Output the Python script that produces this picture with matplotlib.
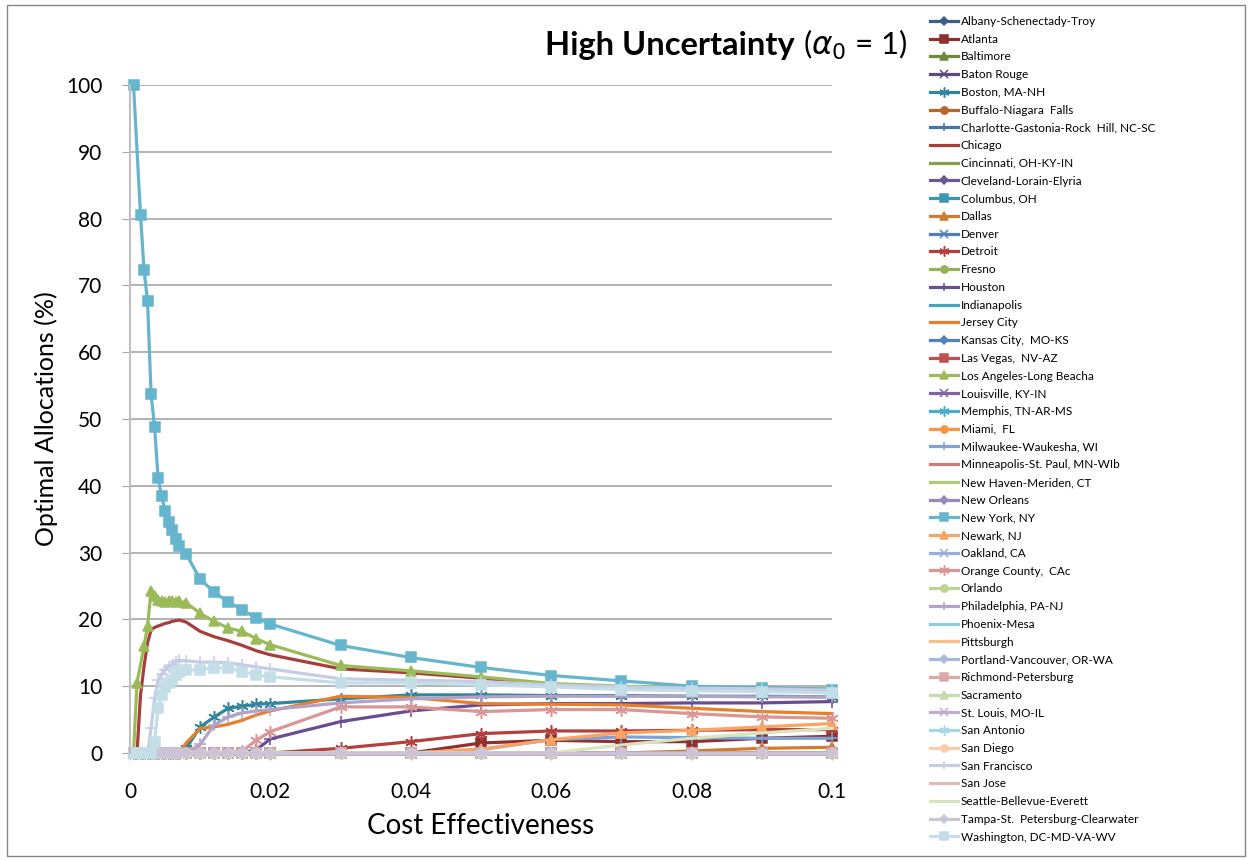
import numpy as np
import matplotlib.pyplot as plt
from matplotlib.patches import Rectangle
from matplotlib.ticker import FuncFormatter

plt.rcParams['font.family'] = ['Lato', 'DejaVu Sans']

# cost effectiveness values (x axis)
x = [0.0005, 0.001, 0.0015, 0.002, 0.0025, 0.003, 0.0035, 0.004, 0.0045, 0.005,
     0.0055, 0.006, 0.0065, 0.007, 0.008, 0.01, 0.012, 0.014, 0.016, 0.018,
     0.02, 0.03, 0.04, 0.05, 0.06, 0.07, 0.08, 0.09, 0.1]

N = None
new_york = [100, N, 80.5, 72.3, 67.6, 53.8, 48.8, 41.2, 38.4, 36.3,
            34.6, 33.4, 32.1, 31.0, 29.8, 26.0, 24.1, 22.6, 21.4, 20.2,
            19.3, 16.1, 14.3, 12.8, 11.6, 10.8, 10.0, 9.8, 9.5]
los_angeles = [0, 10.5, N, 16.0, 19.0, 24.3, 23.5, 22.9, 22.7, 22.6,
               22.7, 22.7, 22.6, 22.7, 22.5, 20.9, 19.7, 18.7, 18.2, 17.1,
               16.2, 13.1, 12.3, 11.4, 10.4, 10.0, 9.8, 9.7, 9.6]
chicago = [0, 0, 8.7, 13.0, 16.5, 18.4, 18.8, 19.0, 19.2, 19.4,
           19.5, 19.7, 19.8, 19.9, 19.6, 18.2, 17.4, 16.8, 16.1, 15.3,
           14.7, 12.6, 12.0, 11.2, 10.3, 9.9, 9.7, 9.6, 9.5]
san_francisco = [0, 0, 0, 0, 0, 3.7, 8.2, 10.9, 11.8, 12.4,
                 12.9, 13.2, 13.6, 13.9, 13.8, 13.6, 13.6, 13.5, 13.2, 12.9,
                 12.6, 11.1, 10.9, 10.7, 10.2, 9.9, 9.7, 9.6, 9.4]
washington = [0, 0, 0, 0, 0, 0, 1.7, 6.7, 8.7, 9.9,
              10.5, 11.0, 11.7, 12.2, 12.4, 12.5, 12.7, 12.7, 12.2, 11.7,
              11.4, 10.5, 10.5, 10.2, 9.9, 9.5, 9.3, 9.2, 9.0]
boston = [0, 0, 0, 0, 0, 0, 0, 0, 0, 0,
          0, 0, 0, 0, 0.7, 3.9, 5.4, 6.7, 7.0, 7.3,
          7.4, 8.1, 8.7, 8.7, 8.6, 8.6, 8.5, 8.5, 8.4]
jersey_city = [0, 0, 0, 0, 0, 0, 0, 0, 0, 0,
               0, 0, 0, 0, 1.5, 3.7, 3.9, 4.3, 4.9, 5.7,
               6.3, 8.5, 8.3, 7.4, 7.3, 7.2, 6.7, 6.2, 5.9]
philadelphia = [0, 0, 0, 0, 0, 0, 0, 0, 0, 0,
                0, 0, 0, 0, 0, 1.3, 4.2, 5.4, 6.0, 6.3,
                6.5, 7.5, 8.1, 8.4, 8.5, 8.5, 8.5, 8.4, 8.4]
orange_county = [0, 0, 0, 0, 0, 0, 0, 0, 0, 0,
                 0, 0, 0, 0, 0, 0, 0, 0, 0.3, 1.9,
                 3.2, 6.9, 6.9, 6.2, 6.5, 6.5, 5.9, 5.4, 5.2]
houston = [0, 0, 0, 0, 0, 0, 0, 0, 0, 0,
           0, 0, 0, 0, 0, 0, 0, 0, 0, 0.5,
           2.1, 4.7, 6.3, 7.2, 7.4, 7.4, 7.5, 7.5, 7.7]
detroit = [0, 0, 0, 0, 0, 0, 0, 0, 0, 0,
           0, 0, 0, 0, 0, 0, 0, 0, 0, 0,
           0, 0.7, 1.7, 2.9, 3.3, 3.3, 3.4, 3.5, 3.5]
atlanta = [0, 0, 0, 0, 0, 0, 0, 0, 0, 0,
           0, 0, 0, 0, 0, 0, 0, 0, 0, 0,
           0, 0, 0, 1.5, 1.9, 1.7, 1.7, 2.2, 2.5]
milwaukee = [0, 0, 0, 0, 0, 0, 0, 0, 0, 0,
             0, 0, 0, 0, 0, 0, 0, 0, 0, 0,
             0, 0, 0, 0.5, 2.0, 2.4, 2.3, 2.2, 2.2]
newark = [0, 0, 0, 0, 0, 0, 0, 0, 0, 0,
          0, 0, 0, 0, 0, 0, 0, 0, 0, 0,
          0, 0, 0, 0.6, 2.0, 3.0, 3.4, 3.9, 4.4]
seattle = [0, 0, 0, 0, 0, 0, 0, 0, 0, 0,
           0, 0, 0, 0, 0, 0, 0, 0, 0, 0,
           0, 0, 0, 0, 0, 1.2, 2.2, 3.0, 3.7]
dallas = [0, 0, 0, 0, 0, 0, 0, 0, 0, 0,
          0, 0, 0, 0, 0, 0, 0, 0, 0, 0,
          0, 0, 0, 0, 0, 0, 0.3, 0.7, 0.85]
zero = [0] * len(x)

cities = ["Albany-Schenectady-Troy", "Atlanta", "Baltimore", "Baton Rouge",
          "Boston, MA-NH", "Buffalo-Niagara  Falls", "Charlotte-Gastonia-Rock  Hill, NC-SC",
          "Chicago", "Cincinnati, OH-KY-IN", "Cleveland-Lorain-Elyria", "Columbus, OH",
          "Dallas", "Denver", "Detroit", "Fresno", "Houston", "Indianapolis",
          "Jersey City", "Kansas City,  MO-KS", "Las Vegas,  NV-AZ",
          "Los Angeles-Long Beacha", "Louisville, KY-IN", "Memphis, TN-AR-MS",
          "Miami,  FL", "Milwaukee-Waukesha, WI", "Minneapolis-St. Paul, MN-WIb",
          "New Haven-Meriden, CT", "New Orleans", "New York, NY", "Newark, NJ",
          "Oakland, CA", "Orange County,  CAc", "Orlando", "Philadelphia, PA-NJ",
          "Phoenix-Mesa", "Pittsburgh", "Portland-Vancouver, OR-WA",
          "Richmond-Petersburg", "Sacramento", "St. Louis, MO-IL", "San Antonio",
          "San Diego", "San Francisco", "San Jose", "Seattle-Bellevue-Everett",
          "Tampa-St.  Petersburg-Clearwater", "Washington, DC-MD-VA-WV"]

colors = ["#3D5F8F", "#8E302D", "#6F8A3A", "#5E4A7E", "#31859C", "#B8652A",
          "#4774AC", "#A83E3B", "#85A24B", "#6E5692", "#3C97AE", "#D47A2E",
          "#4F7EB8", "#B3403D", "#93B356", "#6A4C94", "#44A4BE", "#E8802A",
          "#4F81BD", "#C0504D", "#9BBB59", "#8064A2", "#4BACC6", "#F79646",
          "#7EA1D6", "#D07C79", "#AFCB7A", "#9C87BA", "#64B5CD", "#F9A462",
          "#97AFD8", "#DA9694", "#BCD393", "#B3A2C7", "#93CDDD", "#FAC08F",
          "#A7B8DC", "#DBA9A8", "#C7DAAB", "#BAAFCF", "#A9D6E3", "#FBCCAA",
          "#C5CCE5", "#E2BCBB", "#D7E4BD", "#CCC3DB", "#C3DEE7"]

marker_cycle = ['D', 's', '^', 'x', (6, 2, 0), 'o', '+', None, None]
size_of = {'D': 5.5, 's': 6.5, '^': 6.5, 'x': 7, 'o': 6.5, '+': 8}

values = {c: zero for c in cities}
values["New York, NY"] = new_york
values["Los Angeles-Long Beacha"] = los_angeles
values["Chicago"] = chicago
values["San Francisco"] = san_francisco
values["Washington, DC-MD-VA-WV"] = washington
values["Boston, MA-NH"] = boston
values["Jersey City"] = jersey_city
values["Philadelphia, PA-NJ"] = philadelphia
values["Orange County,  CAc"] = orange_county
values["Houston"] = houston
values["Detroit"] = detroit
values["Atlanta"] = atlanta
values["Milwaukee-Waukesha, WI"] = milwaukee
values["Newark, NJ"] = newark
values["Seattle-Bellevue-Everett"] = seattle
values["Dallas"] = dallas

fig = plt.figure(figsize=(12.49, 8.6), dpi=100)
ax = fig.add_axes([130 / 1249, 1 - 753 / 860, 702 / 1249, 668 / 860])

xs = np.array(x)
for i, c in enumerate(cities):
    y = np.array([np.nan if v is None else v for v in values[c]], dtype=float)
    ok = ~np.isnan(y)
    m = marker_cycle[i % 9]
    ms = size_of.get(m, 9) if m is not None else 0
    ax.plot(xs[ok], y[ok], color=colors[i], lw=2.3, marker=m, ms=ms,
            mfc=colors[i], mec=colors[i], mew=1.1, label=c, clip_on=False,
            solid_joinstyle='round')

ax.set_xlim(0, 0.1)
ax.set_ylim(0, 100)
ax.set_yticks(range(0, 101, 10))
ax.set_xticks([0, 0.02, 0.04, 0.06, 0.08, 0.1])
ax.xaxis.set_major_formatter(FuncFormatter(lambda v, p: '0' if v == 0 else ('%g' % round(v, 3))))
ax.grid(axis='y', color='#A6A6A6', lw=1.2)
ax.set_axisbelow(True)
for s in ['top', 'right', 'bottom']:
    ax.spines[s].set_visible(False)
ax.spines['left'].set_color('#BFBFBF')
ax.spines['left'].set_linewidth(1.5)
ax.tick_params(axis='y', length=6, color='#A6A6A6', labelsize=15, pad=14)
ax.tick_params(axis='x', length=5, color='#A6A6A6', labelsize=15, pad=16)

ax.set_ylabel('Optimal Allocations (%)', fontsize=18, labelpad=6)
ax.set_xlabel('Cost Effectiveness', fontsize=20, labelpad=8)

t1 = fig.text(545 / 1249, 1 - 45 / 860, 'High Uncertainty', fontsize=23.5,
              weight='bold', va='center', ha='left')
fig.canvas.draw()
bb = t1.get_window_extent()
fig.text((bb.x1 + 8) / 1249, 1 - 45 / 860, r'($\alpha_0$ = 1)', fontsize=22.5,
         va='center', ha='left')

h, l = ax.get_legend_handles_labels()
fig.legend(h, l, loc='upper left', bbox_to_anchor=(930 / 1249, 1 - 16 / 860),
           frameon=False, fontsize=8.5, labelspacing=0.57, handlelength=2.4,
           handletextpad=0.2, borderpad=0, borderaxespad=0, markerscale=0.8)

fig.patches.append(Rectangle((7 / 1249, 4 / 860), 1238 / 1249, 851 / 860,
                             transform=fig.transFigure, fill=False,
                             edgecolor='#868686', lw=1))

fig.savefig('out.png', dpi=100)
